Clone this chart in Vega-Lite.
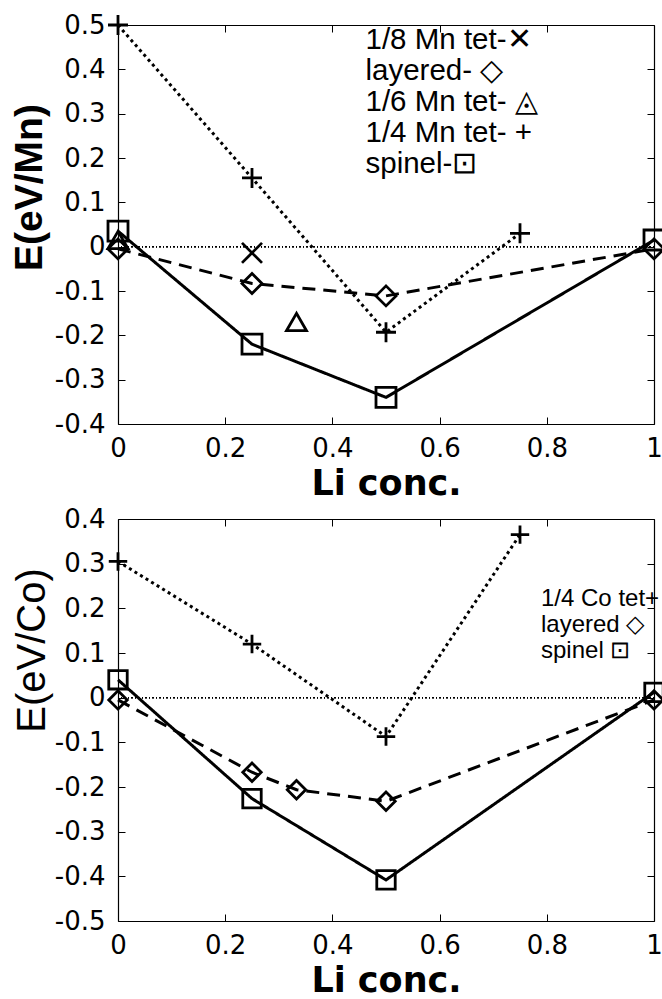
{
  "$schema": "https://vega.github.io/schema/vega-lite/v6.json",
  "background": "white",
  "padding": {"left": 10, "top": 9, "right": 5, "bottom": 5},
  "spacing": 4,
  "config": {
    "view": {"stroke": null},
    "axis": {
      "grid": false,
      "domainColor": "black",
      "domainWidth": 1.2,
      "tickColor": "black",
      "tickSize": -7,
      "tickWidth": 1,
      "labelFont": "DejaVu Sans",
      "labelFontSize": 26,
      "labelColor": "black",
      "labelFlush": false,
      "labelOverlap": false,
      "titleColor": "black"
    },
    "legend": {
      "title": null,
      "orient": "none",
      "padding": 0,
      "symbolSize": 1,
      "symbolOpacity": 0,
      "symbolStrokeWidth": 0,
      "labelOffset": 0,
      "labelLimit": 500,
      "labelColor": "black",
      "labelFont": "Liberation Sans"
    }
  },
  "resolve": {
    "scale": {"x": "independent", "y": "independent", "shape": "independent", "strokeDash": "independent"},
    "legend": {"shape": "independent"}
  },
  "vconcat": [
    {
      "width": 536,
      "height": 399,
      "data": {
        "values": [
          {"li": 0, "e": 0.5, "series": "1/4 Mn tet"},
          {"li": 0.25, "e": 0.155, "series": "1/4 Mn tet"},
          {"li": 0.5, "e": -0.193, "series": "1/4 Mn tet"},
          {"li": 0.75, "e": 0.03, "series": "1/4 Mn tet"},
          {"li": 0, "e": 0.035, "series": "spinel"},
          {"li": 0.25, "e": -0.22, "series": "spinel"},
          {"li": 0.5, "e": -0.34, "series": "spinel"},
          {"li": 1, "e": 0.015, "series": "spinel"},
          {"li": 0, "e": -0.005, "series": "layered"},
          {"li": 0.25, "e": -0.083, "series": "layered"},
          {"li": 0.5, "e": -0.111, "series": "layered"},
          {"li": 1, "e": -0.005, "series": "layered"},
          {"li": 0.25, "e": -0.014, "series": "1/8 Mn tet"},
          {"li": 0.333, "e": -0.17, "series": "1/6 Mn tet"},
          {"li": 0, "e": 0.015, "series": "1/6 Mn tet"}
        ]
      },
      "layer": [
        {
          "mark": {"type": "rule", "color": "black", "strokeWidth": 1, "strokeDash": [1, 2.5]},
          "encoding": {
            "y": {"datum": 0, "type": "quantitative", "scale": {"domain": [-0.4, 0.5], "nice": false, "zero": false}, "axis": null}
          }
        },
        {
          "transform": [{"filter": {"field": "series", "oneOf": ["spinel", "layered", "1/4 Mn tet"]}}],
          "mark": {"type": "line", "color": "black", "strokeWidth": 3},
          "encoding": {
            "x": {"field": "li", "type": "quantitative", "scale": {"domain": [0, 1], "nice": false, "zero": false},
                  "axis": {"orient": "top", "labels": false, "title": null, "values": [0, 0.2, 0.4, 0.6, 0.8, 1]}},
            "y": {"field": "e", "type": "quantitative", "scale": {"domain": [-0.4, 0.5], "nice": false, "zero": false},
                  "axis": {"orient": "right", "labels": false, "title": null, "values": [-0.4, -0.3, -0.2, -0.1, 0, 0.1, 0.2, 0.3, 0.4, 0.5]}},
            "strokeDash": {"field": "series", "type": "nominal",
                           "scale": {"domain": ["spinel", "layered", "1/4 Mn tet"], "range": [[1, 0], [13, 8], [3, 3.5]]},
                           "legend": null}
          }
        },
        {
          "mark": {"type": "point", "filled": false, "color": "black", "strokeWidth": 2.8, "opacity": 1, "size": 400},
          "encoding": {
            "x": {"field": "li", "type": "quantitative", "scale": {"domain": [0, 1], "nice": false, "zero": false},
                  "axis": {"orient": "bottom", "values": [0, 0.2, 0.4, 0.6, 0.8, 1], "labelExpr": "'' + datum.value",
                           "labelPadding": 18.5, "title": "Li conc.", "titleFont": "DejaVu Sans", "titleFontWeight": "bold",
                           "titleFontSize": 35, "titlePadding": 5}},
            "y": {"field": "e", "type": "quantitative", "scale": {"domain": [-0.4, 0.5], "nice": false, "zero": false},
                  "axis": {"orient": "left", "values": [-0.4, -0.3, -0.2, -0.1, 0, 0.1, 0.2, 0.3, 0.4, 0.5], "labelExpr": "'' + datum.value",
                           "labelPadding": 20, "title": "E(eV/Mn)", "titleFont": "Liberation Sans", "titleFontWeight": "bold",
                           "titleFontSize": 39, "titleAngle": -90, "titleAlign": "center", "titleBaseline": "alphabetic",
                           "titleX": -77, "titleY": 162}},
            "shape": {"field": "series", "type": "nominal",
                      "scale": {"domain": ["1/8 Mn tet", "layered", "1/6 Mn tet", "1/4 Mn tet", "spinel"],
                                "range": ["M-1,-1L1,1M-1,1L1,-1", "diamond", "triangle-up", "M-1,0L1,0M0,-1L0,1", "square"]},
                      "legend": {"legendX": 218, "legendY": 0, "labelFontSize": 29.5, "rowPadding": 0,
                                 "labelExpr": "datum.label == '1/8 Mn tet' ? '1/8 Mn tet-✕' : datum.label == 'layered' ? 'layered- ◇' : datum.label == '1/6 Mn tet' ? '1/6 Mn tet- ◬' : datum.label == '1/4 Mn tet' ? '1/4 Mn tet- +' : 'spinel-⊡'"}}
          }
        }
      ],
      "resolve": {"axis": {"x": "independent", "y": "independent"}}
    },
    {
      "width": 536,
      "height": 402,
      "data": {
        "values": [
          {"li": 0, "e": 0.305, "series": "1/4 Co tet"},
          {"li": 0.25, "e": 0.12, "series": "1/4 Co tet"},
          {"li": 0.5, "e": -0.087, "series": "1/4 Co tet"},
          {"li": 0.75, "e": 0.365, "series": "1/4 Co tet"},
          {"li": 0, "e": -0.005, "series": "layered"},
          {"li": 0.25, "e": -0.167, "series": "layered"},
          {"li": 0.333, "e": -0.206, "series": "layered"},
          {"li": 0.5, "e": -0.232, "series": "layered"},
          {"li": 1, "e": -0.005, "series": "layered"},
          {"li": 0, "e": 0.04, "series": "spinel"},
          {"li": 0.25, "e": -0.226, "series": "spinel"},
          {"li": 0.5, "e": -0.408, "series": "spinel"},
          {"li": 1, "e": 0.012, "series": "spinel"}
        ]
      },
      "layer": [
        {
          "mark": {"type": "rule", "color": "black", "strokeWidth": 1, "strokeDash": [1, 2.5]},
          "encoding": {
            "y": {"datum": 0, "type": "quantitative", "scale": {"domain": [-0.5, 0.4], "nice": false, "zero": false}, "axis": null}
          }
        },
        {
          "mark": {"type": "line", "color": "black", "strokeWidth": 3},
          "encoding": {
            "x": {"field": "li", "type": "quantitative", "scale": {"domain": [0, 1], "nice": false, "zero": false},
                  "axis": {"orient": "top", "labels": false, "title": null, "values": [0, 0.2, 0.4, 0.6, 0.8, 1]}},
            "y": {"field": "e", "type": "quantitative", "scale": {"domain": [-0.5, 0.4], "nice": false, "zero": false},
                  "axis": {"orient": "right", "labels": false, "title": null, "values": [-0.5, -0.4, -0.3, -0.2, -0.1, 0, 0.1, 0.2, 0.3, 0.4]}},
            "strokeDash": {"field": "series", "type": "nominal",
                           "scale": {"domain": ["spinel", "layered", "1/4 Co tet"], "range": [[1, 0], [13, 8], [3, 3.5]]},
                           "legend": null}
          }
        },
        {
          "mark": {"type": "point", "filled": false, "color": "black", "strokeWidth": 2.8, "opacity": 1, "size": 340},
          "encoding": {
            "x": {"field": "li", "type": "quantitative", "scale": {"domain": [0, 1], "nice": false, "zero": false},
                  "axis": {"orient": "bottom", "values": [0, 0.2, 0.4, 0.6, 0.8, 1], "labelExpr": "'' + datum.value",
                           "labelPadding": 18.5, "title": "Li conc.", "titleFont": "DejaVu Sans", "titleFontWeight": "bold",
                           "titleFontSize": 35, "titlePadding": 5}},
            "y": {"field": "e", "type": "quantitative", "scale": {"domain": [-0.5, 0.4], "nice": false, "zero": false},
                  "axis": {"orient": "left", "values": [-0.5, -0.4, -0.3, -0.2, -0.1, 0, 0.1, 0.2, 0.3, 0.4], "labelExpr": "'' + datum.value",
                           "labelPadding": 20, "title": "E(eV/Co)", "titleFont": "Liberation Sans", "titleFontWeight": "normal",
                           "titleFontSize": 40, "titleAngle": -90, "titleAlign": "center", "titleBaseline": "alphabetic",
                           "titleX": -74, "titleY": 131}},
            "shape": {"field": "series", "type": "nominal",
                      "scale": {"domain": ["1/4 Co tet", "layered", "spinel"],
                                "range": ["M-1,0L1,0M0,-1L0,1", "diamond", "square"]},
                      "legend": {"legendX": 399, "legendY": 68, "labelFontSize": 24, "rowPadding": 2,
                                 "labelExpr": "datum.label == '1/4 Co tet' ? '1/4 Co tet+' : datum.label == 'layered' ? 'layered ◇' : 'spinel ⊡'"}}
          }
        }
      ],
      "resolve": {"axis": {"x": "independent", "y": "independent"}}
    }
  ]
}
